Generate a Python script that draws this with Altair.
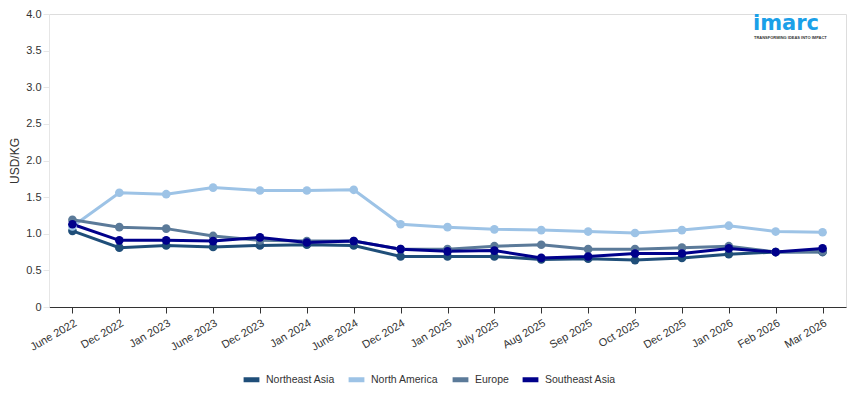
import altair as alt
import pandas as pd

periods = ["June 2022", "Dec 2022", "Jan 2023", "June 2023", "Dec 2023", "Jan 2024",
           "June 2024", "Dec 2024", "Jan 2025", "July 2025", "Aug 2025", "Sep 2025",
           "Oct 2025", "Dec 2025", "Jan 2026", "Feb 2026", "Mar 2026"]

northeast_asia = [1.04, 0.81, 0.84, 0.82, 0.84, 0.85, 0.84, 0.69, 0.69, 0.69, 0.65, 0.66, 0.64, 0.67, 0.72, 0.75, 0.75]
north_america = [1.10, 1.56, 1.54, 1.63, 1.59, 1.59, 1.60, 1.13, 1.09, 1.06, 1.05, 1.03, 1.01, 1.05, 1.11, 1.03, 1.02]
europe = [1.19, 1.09, 1.07, 0.97, 0.91, 0.90, 0.90, 0.79, 0.79, 0.83, 0.85, 0.79, 0.79, 0.81, 0.83, 0.75, 0.76]
southeast_asia = [1.13, 0.91, 0.91, 0.90, 0.95, 0.88, 0.90, 0.79, 0.76, 0.77, 0.67, 0.69, 0.73, 0.73, 0.80, 0.75, 0.80]

series_names = ["Northeast Asia", "North America", "Europe", "Southeast Asia"]
series_colors = ["#1f4e79", "#9dc3e6", "#5b7a99", "#00008b"]

rows = []
for name, vals in zip(series_names, [northeast_asia, north_america, europe, southeast_asia]):
    for p, v in zip(periods, vals):
        rows.append({"Period": p, "Region": name, "Value": v})
df = pd.DataFrame(rows)

x = alt.X("Period:N", sort=periods, title=None,
          axis=alt.Axis(labelAngle=-30, labelAlign="right", labelBaseline="top",
                        labelFontSize=11, labelColor="#333333", domainColor="#333333",
                        tickColor="#333333", tickSize=6, labelPadding=4,
                        labelFont="Liberation Sans"))
y = alt.Y("Value:Q", title="USD/KG",
          scale=alt.Scale(domain=[0, 4], nice=False),
          axis=alt.Axis(values=[0, 0.5, 1, 1.5, 2, 2.5, 3, 3.5, 4],
                        labelExpr="datum.value == 0 ? '0' : format(datum.value, '.1f')",
                        grid=False, domainColor="#e6e6e6", tickColor="#e6e6e6",
                        tickSize=6, labelFontSize=11, labelColor="#333333",
                        titleFontSize=12, titleFontWeight="normal", titleColor="#333333",
                        labelFont="Liberation Sans", titleFont="Liberation Sans",
                        titlePadding=4))
color = alt.Color("Region:N", sort=series_names,
                  scale=alt.Scale(domain=series_names, range=series_colors),
                  legend=alt.Legend(orient="none", legendX=192, legendY=355,
                                    direction="horizontal", title=None,
                                    symbolType="stroke", symbolStrokeWidth=5, symbolSize=250,
                                    labelFontSize=10.5, labelColor="#333333", labelOffset=4,
                                    labelFont="Liberation Sans", columnPadding=3))

base = alt.Chart(df).encode(x=x, y=y, color=color, detail="Region:N")
lines = base.mark_line(strokeWidth=3)
points = base.mark_point(filled=True, size=75, opacity=1)

logo = alt.Chart(pd.DataFrame({"t": ["imarc"]})).mark_text(
    text="imarc", font="DejaVu Sans", fontSize=21, fontWeight="bold", color="#1aa0e8",
    align="left", baseline="alphabetic"
).encode(x=alt.value(704), y=alt.value(16))
tag = alt.Chart(pd.DataFrame({"t": ["TRANSFORMING IDEAS INTO IMPACT"]})).mark_text(
    text="TRANSFORMING IDEAS INTO IMPACT", font="Liberation Sans", fontSize=4,
    fontWeight="bold", color="#333333", align="left", baseline="top"
).encode(x=alt.value(705), y=alt.value(22))

chart = alt.layer(lines, points, logo, tag).properties(
    width=797, height=293,
    autosize=alt.AutoSizeParams(type="none"),
    padding={"left": 41, "right": 1, "top": 6, "bottom": 78}
).configure_view(stroke=None).configure(background="white")

chart.save("out.html", embed_options={"renderer": "svg", "actions": False})
